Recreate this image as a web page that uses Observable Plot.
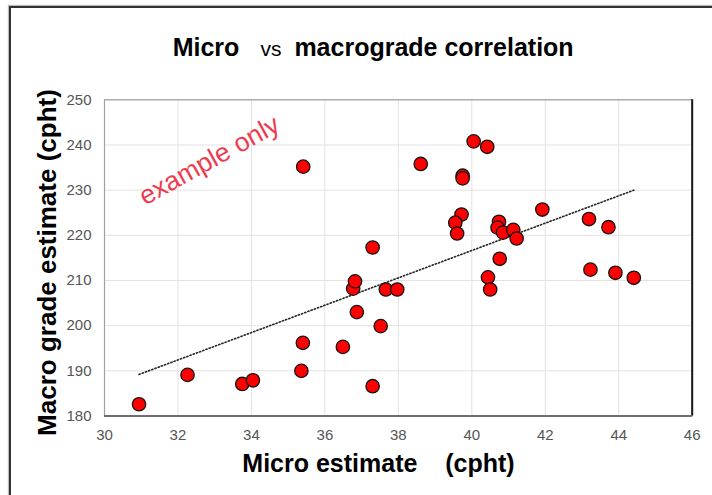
<!DOCTYPE html>
<html>
<head>
<meta charset="utf-8">
<script src="https://cdn.jsdelivr.net/npm/d3@7"></script>
<script src="https://cdn.jsdelivr.net/npm/@observablehq/plot@0.6"></script>
<style>
  html, body { margin: 0; padding: 0; background: #fff; }
  #wrap { position: relative; width: 712px; height: 495px; overflow: hidden; font-family: "Liberation Sans", Arial, sans-serif; }
  #border { position: absolute; left: 9px; top: 6px; width: 800px; height: 600px; border-left: 2.5px solid #333; border-top: 2.5px solid #333; box-shadow: -1px -1px 1px #bbb; }
  #title { position: absolute; left: 172.7px; top: 34.5px; line-height: 25px; white-space: pre; color: #000; }
  #title .b { font-size: 25px; font-weight: bold; }
  #title .vs { font-size: 21px; font-weight: normal; margin-left: 21px; margin-right: 13px; }
  #chart { position: absolute; left: 0; top: 70px; }
  #chart svg { overflow: visible; }
</style>
</head>
<body>
<div id="wrap">
  <div id="border"></div>
  <div id="title"><span class="b">Micro</span><span class="vs">vs</span><span class="b">macrograde correlation</span></div>
  <div id="chart"></div>
</div>
<script>
const micro = [30.94, 32.26, 33.75, 34.04, 35.36, 35.40, 35.41, 36.49, 36.77, 36.82, 36.87, 37.30, 37.30, 37.52, 37.66, 37.97, 38.61, 40.05, 40.42, 39.75, 39.75, 39.72, 39.55, 39.60, 40.74, 40.70, 40.85, 41.13, 41.22, 40.76, 40.44, 40.50, 41.92, 43.19, 43.72, 43.23, 43.91, 44.41];
const macro = [182.6, 189.1, 187.1, 187.9, 190.0, 196.2, 235.2, 195.3, 208.2, 209.8, 203.0, 217.3, 186.6, 199.9, 208.0, 208.0, 235.8, 240.8, 239.6, 233.2, 232.6, 224.6, 222.8, 220.4, 223.0, 221.7, 220.6, 221.2, 219.3, 214.8, 210.7, 208.0, 225.7, 223.6, 221.8, 212.4, 211.7, 210.6];
const xTicks = [30, 32, 34, 36, 38, 40, 42, 44, 46];
const yTicks = [180, 190, 200, 210, 220, 230, 240, 250];
const xLabel = "Micro estimate\u00a0\u00a0\u00a0\u00a0(cpht)";
const yLabel = "Macro grade estimate (cpht)";
const note = "example only";

const data = micro.map((m, i) => ({micro: m, macro: macro[i]}));
const font = "Liberation Sans, Arial, sans-serif";

const chart = Plot.plot({
  width: 712,
  height: 425,
  marginLeft: 104,
  marginRight: 20.3,
  marginTop: 29.3,
  marginBottom: 79.5,
  style: {fontFamily: font, background: "transparent", overflow: "visible"},
  x: {domain: [30, 46]},
  y: {domain: [180, 250]},
  marks: [
    Plot.gridX(xTicks, {stroke: "#e2e2e2", strokeOpacity: 1, strokeWidth: 1}),
    Plot.gridY(yTicks, {stroke: "#e2e2e2", strokeOpacity: 1, strokeWidth: 1}),
    Plot.frame({stroke: "#a0a0a0", strokeWidth: 1.2}),
    Plot.ruleX([46], {stroke: "#1a1a1a", strokeWidth: 2}),
    Plot.ruleY([180], {stroke: "#555", strokeWidth: 1.5}),
    Plot.axisX(xTicks, {tickSize: 0, tickPadding: 13, fontSize: 15, fill: "#555", label: null}),
    Plot.axisY(yTicks, {tickSize: 0, tickPadding: 13, fontSize: 15, fill: "#555", label: null}),
    Plot.linearRegressionY(data, {x: "micro", y: "macro", ci: 0, stroke: "#222", strokeWidth: 1.6, strokeDasharray: "1.2,2.2"}),
    Plot.dot(data, {x: "micro", y: "macro", r: 6.7, fill: "#ff0000", stroke: "#151515", strokeWidth: 1.3}),
    Plot.text([note], {frameAnchor: "top-left", textAnchor: "middle", lineAnchor: "middle", dx: 104.8, dy: 60.7, rotate: -29, fontSize: 26.5, fill: "#ef3b50", fontFamily: font}),
    Plot.text([xLabel], {frameAnchor: "bottom", textAnchor: "middle", lineAnchor: "middle", dx: -19.9, dy: 48.2, fontSize: 25, fontWeight: "bold", fill: "#000", fontFamily: font}),
    Plot.text([yLabel], {frameAnchor: "left", textAnchor: "middle", lineAnchor: "middle", rotate: -90, dx: -57.3, dy: 4.6, fontSize: 26, fontWeight: "bold", fill: "#000", fontFamily: font})
  ]
});
document.getElementById("chart").appendChild(chart);
</script>
</body>
</html>
